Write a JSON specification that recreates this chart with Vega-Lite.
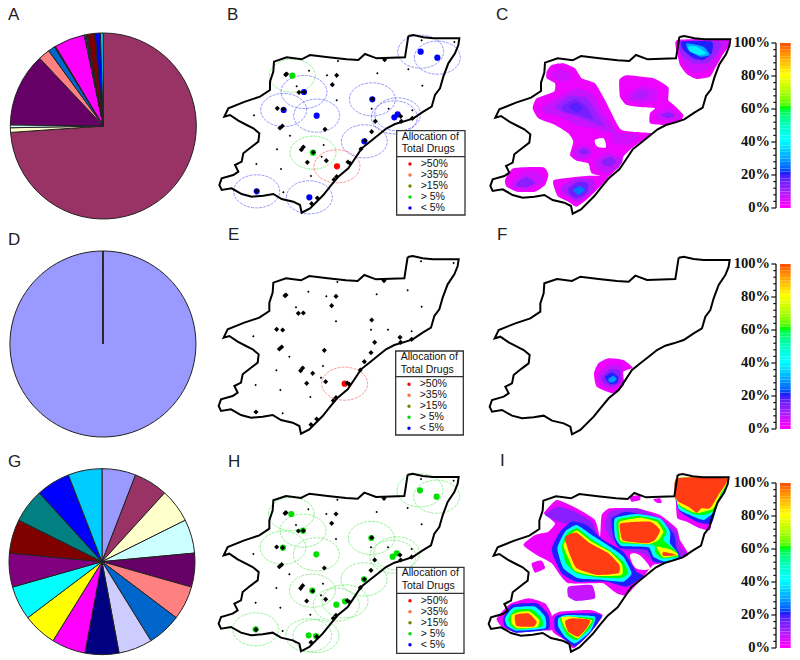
{"$schema":"https://vega.github.io/schema/vega-lite/v6.json","width":800,"height":660,"padding":0,"autosize":{"type":"fit","contains":"padding"},"background":"white","config":{"view":{"stroke":null}},
"resolve":{"scale":{"fill":"independent","color":"independent","stroke":"independent"}},
"datasets":{
"offs":[{"p":"B","dx":630,"dy":0},{"p":"E","dx":628,"dy":663},{"p":"H","dx":628,"dy":1316},{"p":"C","dx":1443,"dy":3},{"p":"F","dx":1441,"dy":665},{"p":"I","dx":1438,"dy":1317}],
"pie":[{"p":"A","c":"a","s":0,"e":0.02},{"p":"A","c":"b","s":0.02,"e":73.9},{"p":"A","c":"c","s":73.9,"e":74.7},{"p":"A","c":"d","s":74.7,"e":75.2},{"p":"A","c":"e","s":75.2,"e":88},{"p":"A","c":"f","s":88,"e":90},{"p":"A","c":"g","s":90,"e":91.2},{"p":"A","c":"h","s":91.2,"e":91.3},{"p":"A","c":"i","s":91.3,"e":91.4},{"p":"A","c":"j","s":91.4,"e":96.7},{"p":"A","c":"k","s":96.7,"e":96.8},{"p":"A","c":"l","s":96.8,"e":97},{"p":"A","c":"m","s":97,"e":97.3},{"p":"A","c":"n","s":97.3,"e":98.5},{"p":"A","c":"o","s":98.5,"e":98.6},{"p":"A","c":"q","s":98.6,"e":99.5},{"p":"A","c":"r","s":99.5,"e":100},
{"p":"D","c":"a","s":0,"e":99.98},{"p":"D","c":"b","s":99.98,"e":100},
{"p":"G","c":"a","s":0,"e":5.88},{"p":"G","c":"b","s":5.88,"e":11.76},{"p":"G","c":"c","s":11.76,"e":17.65},{"p":"G","c":"d","s":17.65,"e":23.53},{"p":"G","c":"e","s":23.53,"e":29.41},{"p":"G","c":"f","s":29.41,"e":35.29},{"p":"G","c":"g","s":35.29,"e":41.18},{"p":"G","c":"h","s":41.18,"e":47.06},{"p":"G","c":"i","s":47.06,"e":52.94},{"p":"G","c":"j","s":52.94,"e":58.82},{"p":"G","c":"k","s":58.82,"e":64.71},{"p":"G","c":"l","s":64.71,"e":70.59},{"p":"G","c":"m","s":70.59,"e":76.47},{"p":"G","c":"n","s":76.47,"e":82.35},{"p":"G","c":"o","s":82.35,"e":88.24},{"p":"G","c":"q","s":88.24,"e":94.12},{"p":"G","c":"r","s":94.12,"e":100}],
"outline":[{"i":1,"x":595,"y":108},{"i":2,"x":610,"y":105},{"i":3,"x":640,"y":112},{"i":4,"x":670,"y":115},{"i":5,"x":748,"y":115},{"i":6,"x":745,"y":135},{"i":7,"x":735,"y":160},{"i":8,"x":715,"y":190},{"i":9,"x":700,"y":230},{"i":10,"x":690,"y":265},{"i":11,"x":675,"y":285},{"i":12,"x":665,"y":320},{"i":13,"x":640,"y":335},{"i":14,"x":610,"y":355},{"i":15,"x":580,"y":365},{"i":16,"x":555,"y":372},{"i":17,"x":530,"y":385},{"i":18,"x":505,"y":405},{"i":19,"x":480,"y":425},{"i":20,"x":455,"y":445},{"i":21,"x":432,"y":480},{"i":22,"x":415,"y":505},{"i":23,"x":385,"y":530},{"i":24,"x":360,"y":560},{"i":25,"x":340,"y":585},{"i":26,"x":300,"y":625},{"i":27,"x":275,"y":638},{"i":28,"x":270,"y":615},{"i":29,"x":250,"y":605},{"i":30,"x":215,"y":597},{"i":31,"x":190,"y":582},{"i":32,"x":160,"y":587},{"i":33,"x":125,"y":590},{"i":34,"x":95,"y":582},{"i":35,"x":65,"y":565},{"i":36,"x":35,"y":570},{"i":37,"x":28,"y":555},{"i":38,"x":35,"y":535},{"i":39,"x":70,"y":525},{"i":40,"x":85,"y":515},{"i":41,"x":75,"y":495},{"i":42,"x":95,"y":485},{"i":43,"x":100,"y":460},{"i":44,"x":125,"y":440},{"i":45,"x":145,"y":425},{"i":46,"x":148,"y":400},{"i":47,"x":130,"y":385},{"i":48,"x":110,"y":375},{"i":49,"x":85,"y":362},{"i":50,"x":60,"y":345},{"i":51,"x":43,"y":350},{"i":52,"x":55,"y":325},{"i":53,"x":105,"y":305},{"i":54,"x":150,"y":290},{"i":55,"x":180,"y":270},{"i":56,"x":180,"y":245},{"i":57,"x":190,"y":215},{"i":58,"x":192,"y":185},{"i":59,"x":230,"y":172},{"i":60,"x":275,"y":178},{"i":61,"x":300,"y":165},{"i":62,"x":355,"y":172},{"i":63,"x":410,"y":178},{"i":64,"x":445,"y":180},{"i":65,"x":465,"y":162},{"i":66,"x":500,"y":175},{"i":67,"x":585,"y":172},{"i":68,"x":590,"y":140},{"i":69,"x":595,"y":108}],
"sites":[{"x":524,"y":179,"k":"l"},{"x":230,"y":222,"k":"l"},{"x":227,"y":224,"k":"l"},{"x":380,"y":226,"k":"l"},{"x":367,"y":254,"k":"l"},{"x":267,"y":277,"k":"l"},{"x":282,"y":276,"k":"l"},{"x":487,"y":297,"k":"l"},{"x":202,"y":325,"k":"l"},{"x":220,"y":327,"k":"l"},{"x":496,"y":364,"k":"l"},{"x":572,"y":349,"k":"l"},{"x":574,"y":364,"k":"l"},{"x":607,"y":355,"k":"l"},{"x":345,"y":388,"k":"l"},{"x":217,"y":378,"k":"l"},{"x":210,"y":384,"k":"l"},{"x":485,"y":395,"k":"l"},{"x":465,"y":422,"k":"l"},{"x":280,"y":441,"k":"l"},{"x":274,"y":449,"k":"l"},{"x":310,"y":457,"k":"l"},{"x":453,"y":447,"k":"l"},{"x":349,"y":482,"k":"l"},{"x":292,"y":487,"k":"l"},{"x":420,"y":490,"k":"l"},{"x":414,"y":486,"k":"l"},{"x":380,"y":530,"k":"l"},{"x":372,"y":539,"k":"l"},{"x":140,"y":573,"k":"l"},{"x":322,"y":594,"k":"l"},{"x":305,"y":611,"k":"l"},{"x":635,"y":121,"k":"s"},{"x":733,"y":126,"k":"s"},{"x":384,"y":183,"k":"s"},{"x":595,"y":208,"k":"s"},{"x":297,"y":212,"k":"s"},{"x":351,"y":226,"k":"s"},{"x":502,"y":220,"k":"s"},{"x":260,"y":259,"k":"s"},{"x":637,"y":257,"k":"s"},{"x":380,"y":301,"k":"s"},{"x":485,"y":326,"k":"s"},{"x":536,"y":326,"k":"s"},{"x":607,"y":331,"k":"s"},{"x":132,"y":346,"k":"s"},{"x":240,"y":407,"k":"s"},{"x":341,"y":435,"k":"s"},{"x":201,"y":448,"k":"s"},{"x":335,"y":470,"k":"s"},{"x":139,"y":492,"k":"s"},{"x":213,"y":507,"k":"s"},{"x":303,"y":528,"k":"s"},{"x":220,"y":577,"k":"s"}],
"drugs":[{"p":"B","x":632,"y":155,"l":"< 5%"},{"p":"B","x":682,"y":173,"l":"< 5%"},{"p":"B","x":487,"y":298,"l":"< 5%"},{"p":"B","x":282,"y":276,"l":"< 5%"},{"p":"B","x":221,"y":330,"l":"< 5%"},{"p":"B","x":320,"y":347,"l":"< 5%"},{"p":"B","x":553,"y":352,"l":"< 5%"},{"p":"B","x":563,"y":343,"l":"< 5%"},{"p":"B","x":463,"y":424,"l":"< 5%"},{"p":"B","x":140,"y":574,"l":"< 5%"},{"p":"B","x":298,"y":592,"l":"< 5%"},{"p":"B","x":247,"y":227,"l":"> 5%"},{"p":"B","x":309,"y":458,"l":"> 5%"},{"p":"B","x":381,"y":499,"l":">50%"},
{"p":"E","x":406,"y":488,"l":">50%"},
{"p":"H","x":632,"y":155,"l":"> 5%"},{"p":"H","x":682,"y":174,"l":"> 5%"},{"p":"H","x":486,"y":298,"l":"> 5%"},{"p":"H","x":281,"y":276,"l":"> 5%"},{"p":"H","x":221,"y":327,"l":"> 5%"},{"p":"H","x":321,"y":347,"l":"> 5%"},{"p":"H","x":550,"y":354,"l":"> 5%"},{"p":"H","x":562,"y":344,"l":"> 5%"},{"p":"H","x":464,"y":422,"l":"> 5%"},{"p":"H","x":139,"y":572,"l":"> 5%"},{"p":"H","x":298,"y":590,"l":"> 5%"},{"p":"H","x":320,"y":592,"l":"> 5%"},{"p":"H","x":246,"y":226,"l":"> 5%"},{"p":"H","x":309,"y":456,"l":"> 5%"},{"p":"H","x":381,"y":498,"l":"> 5%"},{"p":"H","x":407,"y":488,"l":"> 5%"}],
"contours":[
{"p":"C","g":"c01","v":2,"x":[200,215,250,285,305,345,375,390,425,515,490,455,430,425,385,335,325,290,270,280,265,225,175,158,170,222,225,200],"y":[215,195,190,205,235,250,300,330,390,400,420,445,470,490,530,520,490,482,465,425,400,375,355,325,295,275,250,235]},
{"p":"C","g":"c02","v":2,"x":[592,750,725,705,690,650,620,600,592],"y":[120,120,170,205,230,237,222,195,160]},
{"p":"C","g":"c03","v":2,"x":[418,440,520,565,565,585,610,600,555,510,510,525,490,440,420],"y":[240,226,235,262,300,318,345,365,375,370,340,325,322,315,290]},
{"p":"C","g":"c04","v":2,"x":[75,100,190,205,195,165,110,80],"y":[540,505,502,525,555,575,575,560]},
{"p":"C","g":"c05","v":2,"x":[222,320,385,355,330,290,265,235,225],"y":[540,528,530,565,590,620,605,590,570]},
{"p":"C","g":"c06","v":6,"x":[185,230,290,340,370,410,395,340,290,240,195],"y":[325,295,265,285,340,395,400,385,375,350,340]},
{"p":"C","g":"c07","v":5,"x":[395,450,480,440,400],"y":[400,400,410,435,430]},
{"p":"C","g":"c08","v":10,"x":[225,270,320,350,375,340,290,245],"y":[320,288,295,340,380,370,350,335]},
{"p":"C","g":"c09","v":14,"x":[245,285,320,340,295,255],"y":[320,298,320,358,345,335]},
{"p":"C","g":"c10","v":17,"x":[265,290,310,290],"y":[318,308,325,337]},
{"p":"C","g":"c11","v":5,"x":[215,245,275,270,240,220],"y":[222,205,225,240,245,235]},
{"p":"C","g":"c12","v":6,"x":[280,310,335,330,305,285],"y":[450,435,450,470,478,470]},
{"p":"C","g":"c13","v":12,"x":[295,312,328,312],"y":[455,445,457,465]},
{"p":"C","g":"c14","v":6,"x":[345,385,425,415,380,350],"y":[480,460,475,505,520,505]},
{"p":"C","g":"c15","v":12,"x":[365,390,410,390,370],"y":[483,470,485,500,495]},
{"p":"C","g":"c16","v":5,"x":[440,480,530,530,480,445],"y":[285,258,270,300,310,300]},
{"p":"C","g":"c17","v":8,"x":[460,485,510,485,460],"y":[285,270,285,298,295]},
{"p":"C","g":"c18","v":5,"x":[525,565,600,585,540],"y":[345,325,348,362,362]},
{"p":"C","g":"c19","v":12,"x":[545,565,585,565],"y":[345,337,347,355]},
{"p":"C","g":"c20","v":5,"x":[600,745,715,695,640,610],"y":[125,125,170,205,220,190]},
{"p":"C","g":"c21","v":10,"x":[600,720,710,680,640,605],"y":[125,125,165,190,190,165]},
{"p":"C","g":"c22","v":20,"x":[605,695,695,670,640,610],"y":[125,125,160,180,175,150]},
{"p":"C","g":"c23","v":30,"x":[620,670,690,660,625],"y":[130,140,165,170,150]},
{"p":"C","g":"c24","v":38,"x":[625,650,680,660,630],"y":[140,140,160,165,155]},
{"p":"C","g":"c25","v":5,"x":[95,135,180,190,135,95],"y":[545,515,520,550,570,565]},
{"p":"C","g":"c26","v":12,"x":[110,140,165,140,110],"y":[548,530,548,562,558]},
{"p":"C","g":"c27","v":8,"x":[245,290,340,340,295,265,245],"y":[560,535,540,570,605,590,575]},
{"p":"C","g":"c28","v":15,"x":[265,295,325,320,290,270],"y":[565,545,550,580,595,585]},
{"p":"C","g":"c29","v":25,"x":[280,300,315,295],"y":[570,558,570,585]},
{"p":"F","g":"f1","v":2,"x":[342,355,385,430,458,430,432,400,350],"y":[453,423,408,413,436,448,488,513,493]},
{"p":"F","g":"f2","v":6,"x":[355,385,425,425,395,360],"y":[458,430,430,480,500,485]},
{"p":"F","g":"f3","v":12,"x":[365,390,420,420,395,370],"y":[463,440,445,480,492,480]},
{"p":"F","g":"f4","v":20,"x":[375,395,415,410,390],"y":[465,450,465,482,485]},
{"p":"F","g":"f5","v":28,"x":[385,400,410,400,388],"y":[470,460,470,480,480]},
{"p":"I","g":"i01","v":2,"x":[190,230,290,345,360,365,390,470,540,590,600,625,570,520,490,440,410,370,340,265,240,215,170,130,165,205,225,190],"y":[220,180,205,240,290,225,205,205,225,265,300,345,365,375,410,465,460,430,430,430,405,370,345,315,285,275,250,220]},
{"p":"I","g":"i02","v":2,"x":[590,745,720,700,690,660,620,592,588],"y":[118,115,170,220,270,265,245,235,190]},
{"p":"I","g":"i03","v":2,"x":[50,90,145,195,215,215,170,110,65],"y":[535,492,475,490,525,570,570,578,560]},
{"p":"I","g":"i04","v":2,"x":[240,330,368,350,320,280,255,218,215],"y":[515,510,525,555,590,625,600,575,530]},
{"p":"I","g":"i05","v":2,"x":[155,185,195,165],"y":[370,362,385,398]},
{"p":"I","g":"i06","v":6,"x":[265,335,345,290,265],"y":[440,435,475,483,470]},
{"p":"I","g":"i07","v":2,"x":[450,480,480,455],"y":[170,165,180,185]},
{"p":"I","g":"i08","v":2,"x":[520,540,545,530],"y":[178,175,188,188]},
{"p":"I","g":"i09","v":12,"x":[195,235,285,335,350,300,250],"y":[225,200,215,245,290,255,250]},
{"p":"I","g":"i10","v":20,"x":[590,745,715,695,650,600,590],"y":[118,118,185,250,245,215,190]},
{"p":"I","g":"i11","v":40,"x":[590,745,725,703,670,630,595],"y":[118,118,165,215,240,225,205]},
{"p":"I","g":"i12","v":60,"x":[590,745,725,705,672,640,595],"y":[115,115,160,210,225,222,195]},
{"p":"I","g":"i13","v":80,"x":[590,745,725,700,660,635,592],"y":[115,115,155,205,218,215,188]},
{"p":"I","g":"i14","v":100,"x":[590,740,715,690,665,650,625,590],"y":[115,115,165,205,205,218,200,180]},
{"p":"I","g":"i15","v":10,"x":[390,470,540,590,600,620,590,530,490,430,395,375],"y":[215,205,235,275,320,345,360,370,340,330,300,260]},
{"p":"I","g":"i16","v":20,"x":[215,240,275,320,370,430,470,490,440,380,290,245],"y":[330,275,245,255,300,335,395,408,440,425,425,400]},
{"p":"I","g":"i17","v":40,"x":[232,255,290,335,390,430,455,430,370,295,250],"y":[325,275,255,285,320,350,400,425,420,415,385]},
{"p":"I","g":"i18","v":60,"x":[245,262,292,335,395,430,445,420,350,290,258],"y":[320,280,265,298,335,365,400,415,412,400,370]},
{"p":"I","g":"i19","v":80,"x":[250,270,292,335,390,425,425,350,285,265],"y":[315,285,272,305,335,372,405,408,393,355]},
{"p":"I","g":"i20","v":100,"x":[255,290,330,385,418,415,350,290,270,258],"y":[290,278,310,340,375,400,405,385,345,310]},
{"p":"I","g":"i21","v":20,"x":[395,440,530,580,590,600,560,520,500,420,400],"y":[235,215,235,280,325,350,368,365,330,325,290]},
{"p":"I","g":"i22","v":40,"x":[405,470,540,570,570,590,595,555,520,505,425,405],"y":[235,222,235,275,310,335,352,365,350,322,318,290]},
{"p":"I","g":"i23","v":60,"x":[412,475,535,560,550,585,595,545,525,520,425,412],"y":[240,228,240,275,300,330,350,355,335,315,310,285]},
{"p":"I","g":"i24","v":80,"x":[418,480,530,550,535,505,425,418],"y":[245,233,245,275,300,312,305,280]},
{"p":"I","g":"i25","v":80,"x":[530,575,595,550],"y":[320,330,345,352]},
{"p":"I","g":"i26","v":100,"x":[422,510,540,525,500,430,422],"y":[250,245,270,300,310,302,280]},
{"p":"I","g":"i27","v":100,"x":[550,590,550],"y":[335,345,348]},
{"p":"I","g":"i28","v":20,"x":[70,95,170,205,205,110,75],"y":[535,495,490,525,568,578,560]},
{"p":"I","g":"i29","v":40,"x":[75,100,165,195,195,110,82],"y":[535,503,500,530,565,572,558]},
{"p":"I","g":"i30","v":60,"x":[85,105,155,185,185,110,90],"y":[535,510,508,535,560,568,555]},
{"p":"I","g":"i31","v":80,"x":[95,120,150,178,170,112,95],"y":[525,515,515,540,562,565,550]},
{"p":"I","g":"i32","v":100,"x":[105,145,170,160,110],"y":[525,520,545,560,558]},
{"p":"I","g":"i33","v":20,"x":[225,265,345,365,330,285,250,225],"y":[530,520,520,530,580,620,595,570]},
{"p":"I","g":"i34","v":40,"x":[235,260,345,330,285,255,235],"y":[535,525,530,575,610,590,560]},
{"p":"I","g":"i35","v":60,"x":[240,268,340,330,290,260,245],"y":[535,530,535,565,600,585,555]},
{"p":"I","g":"i36","v":80,"x":[245,275,335,325,295,265,250],"y":[532,530,540,560,595,578,555]},
{"p":"I","g":"i37","v":100,"x":[255,275,330,320,295,265],"y":[545,535,540,565,590,575]}],
"holes":[{"p":"C","g":"h1","x":[345,370,378,365,350],"y":[420,415,440,443,438]},{"p":"I","g":"h2","x":[450,478,510,468],"y":[345,345,385,385]}],
"box":[{"p":"B","x1":1190,"x2":1395,"y1":392,"y2":645,"r":470},{"p":"E","x1":1187,"x2":1390,"y1":1053,"y2":1305,"r":1130},{"p":"H","x1":1190,"x2":1392,"y1":1702,"y2":1960,"r":1780}],
"legtitle":[{"t":"Allocation of","k":0},{"t":"Total Drugs","k":1}],
"legitems":[{"l":">50%","k":0},{"l":">35%","k":1},{"l":">15%","k":2},{"l":"> 5%","k":3},{"l":"< 5%","k":4}],
"titles":[{"t":"A","x":24,"y":60},{"t":"B","x":681,"y":60},{"t":"C","x":1488,"y":60},{"t":"D","x":24,"y":735},{"t":"E","x":684,"y":720},{"t":"F","x":1491,"y":720},{"t":"G","x":24,"y":1401},{"t":"H","x":684,"y":1401},{"t":"I","x":1500,"y":1398}],
"ticks":[{"v":0,"t":"0%","m":1},{"v":4,"m":0},{"v":8,"m":0},{"v":12,"m":0},{"v":16,"m":0},{"v":20,"t":"20%","m":1},{"v":24,"m":0},{"v":28,"m":0},{"v":32,"m":0},{"v":36,"m":0},{"v":40,"t":"40%","m":1},{"v":44,"m":0},{"v":48,"m":0},{"v":52,"m":0},{"v":56,"m":0},{"v":60,"t":"60%","m":1},{"v":64,"m":0},{"v":68,"m":0},{"v":72,"m":0},{"v":76,"m":0},{"v":80,"t":"80%","m":1},{"v":84,"m":0},{"v":88,"m":0},{"v":92,"m":0},{"v":96,"m":0},{"v":100,"t":"100%","m":1}],
"axisline":[{"p":"C","a":0,"b":100},{"p":"F","a":0,"b":100},{"p":"I","a":0,"b":100}],
"bar":[{"a":0,"b":2},{"a":2,"b":4},{"a":4,"b":6},{"a":6,"b":8},{"a":8,"b":10},{"a":10,"b":12},{"a":12,"b":14},{"a":14,"b":16},{"a":16,"b":18},{"a":18,"b":20},{"a":20,"b":22},{"a":22,"b":24},{"a":24,"b":26},{"a":26,"b":28},{"a":28,"b":30},{"a":30,"b":32},{"a":32,"b":34},{"a":34,"b":36},{"a":36,"b":38},{"a":38,"b":40},{"a":40,"b":42},{"a":42,"b":44},{"a":44,"b":46},{"a":46,"b":48},{"a":48,"b":50},{"a":50,"b":52},{"a":52,"b":54},{"a":54,"b":56},{"a":56,"b":58},{"a":58,"b":60},{"a":60,"b":62},{"a":62,"b":64},{"a":64,"b":66},{"a":66,"b":68},{"a":68,"b":70},{"a":70,"b":72},{"a":72,"b":74},{"a":74,"b":76},{"a":76,"b":78},{"a":78,"b":80},{"a":80,"b":82},{"a":82,"b":84},{"a":84,"b":86},{"a":86,"b":88},{"a":88,"b":90},{"a":90,"b":92},{"a":92,"b":94},{"a":94,"b":96},{"a":96,"b":98},{"a":98,"b":100}]
},
"layer":[
{"data":{"name":"pie"},"transform":[{"calculate":"datum.p=='A'?310:datum.p=='D'?309:306","as":"X"},{"calculate":"datum.p=='A'?378:datum.p=='D'?1032:1685","as":"Y"}],"mark":{"type":"arc","radius":93,"stroke":"#222","strokeWidth":1},"encoding":{"x":{"field":"X","type":"quantitative","axis":null,"scale":{"domain":[0,2400],"nice":false,"zero":false}},"y":{"field":"Y","type":"quantitative","axis":null,"scale":{"domain":[1980,0],"nice":false,"zero":false}},"theta":{"field":"s","type":"quantitative","stack":null,"scale":{"domain":[0,100]}},"theta2":{"field":"e"},"color":{"field":"c","type":"nominal","legend":null,"scale":{"domain":["a","b","c","d","e","f","g","h","i","j","k","l","m","n","o","q","r"],"range":["#9999ff","#993366","#ffffcc","#ccffff","#660066","#ff8080","#0066cc","#ccccff","#000080","#ff00ff","#ffff00","#00ffff","#800080","#800000","#008080","#0000ff","#00ccff"]}}}},
{"data":{"name":"drugs"},"transform":[{"lookup":"p","from":{"data":{"name":"offs"},"key":"p","fields":["dx","dy"]}},{"calculate":"datum.x+datum.dx","as":"X"},{"calculate":"datum.y+datum.dy","as":"Y"}],"mark":{"type":"point","filled":false,"shape":"M-1,0A1,.72,0,1,1,1,0A1,.72,0,1,1,-1,0Z","size":2116,"strokeWidth":0.7,"strokeDash":[3,1],"opacity":0.55},"encoding":{"x":{"field":"X","type":"quantitative"},"y":{"field":"Y","type":"quantitative"},"stroke":{"field":"l","type":"nominal","legend":null,"scale":{"domain":[">50%",">35%",">15%","> 5%","< 5%"],"range":["#ff0000","#ff7040","#808000","#00e000","#0000ff"]}}}},
{"data":{"name":"drugs"},"transform":[{"lookup":"p","from":{"data":{"name":"offs"},"key":"p","fields":["dx","dy"]}},{"calculate":"datum.x+datum.dx","as":"X"},{"calculate":"datum.y+datum.dy","as":"Y"}],"mark":{"type":"point","filled":true,"shape":"circle","size":38,"opacity":1},"encoding":{"x":{"field":"X","type":"quantitative"},"y":{"field":"Y","type":"quantitative"},"fill":{"field":"l","type":"nominal","legend":null,"scale":{"domain":[">50%",">35%",">15%","> 5%","< 5%"],"range":["#ff0000","#ff7040","#808000","#00e000","#0000ff"]}}}},
{"data":{"name":"contours"},"transform":[{"flatten":["x","y"]},{"window":[{"op":"row_number","as":"i"}]},{"calculate":"datum.x+1440","as":"X"},{"calculate":"datum.y+(datum.p=='C'?0:datum.p=='F'?667:1320)","as":"Y"}],"mark":{"type":"line","filled":true,"interpolate":"cardinal-closed","tension":0.5,"strokeWidth":0},"encoding":{"x":{"field":"X","type":"quantitative"},"y":{"field":"Y","type":"quantitative"},"detail":{"field":"g"},"order":{"field":"i"},"fill":{"field":"v","type":"quantitative","legend":null,"scale":{"domain":[0,10,20,40,60,80,100],"range":["#ff00ff","#9a20ff","#2020ff","#00ffff","#00ff00","#ffff00","#ff3c14"]}}}},
{"data":{"name":"holes"},"transform":[{"flatten":["x","y"]},{"window":[{"op":"row_number","as":"i"}]},{"calculate":"datum.x+1440","as":"X"},{"calculate":"datum.y+(datum.p=='C'?0:1320)","as":"Y"}],"mark":{"type":"line","filled":true,"fill":"white","interpolate":"cardinal-closed","strokeWidth":0},"encoding":{"x":{"field":"X","type":"quantitative"},"y":{"field":"Y","type":"quantitative"},"detail":{"field":"g"},"order":{"field":"i"}}},
{"data":{"name":"outline"},"transform":[{"calculate":"['B','E','H','C','F','I']","as":"p"},{"flatten":["p"]},{"lookup":"p","from":{"data":{"name":"offs"},"key":"p","fields":["dx","dy"]}},{"calculate":"datum.x+datum.dx","as":"X"},{"calculate":"datum.y+datum.dy","as":"Y"}],"mark":{"type":"line","color":"black","strokeWidth":2},"encoding":{"x":{"field":"X","type":"quantitative"},"y":{"field":"Y","type":"quantitative"},"detail":{"field":"p"},"order":{"field":"i"}}},
{"data":{"name":"sites"},"transform":[{"calculate":"['B','E','H']","as":"p"},{"flatten":["p"]},{"lookup":"p","from":{"data":{"name":"offs"},"key":"p","fields":["dx","dy"]}},{"calculate":"datum.x+datum.dx","as":"X"},{"calculate":"datum.y+datum.dy","as":"Y"}],"mark":{"type":"point","filled":true,"shape":"diamond","color":"black","opacity":1},"encoding":{"x":{"field":"X","type":"quantitative"},"y":{"field":"Y","type":"quantitative"},"size":{"field":"k","type":"ordinal","legend":null,"scale":{"domain":["s","l"],"range":[6,26]}}}},
{"data":{"name":"box"},"mark":{"type":"rect","fill":"white","stroke":"#333","strokeWidth":1.3},"encoding":{"x":{"field":"x1","type":"quantitative"},"x2":{"field":"x2"},"y":{"field":"y1","type":"quantitative"},"y2":{"field":"y2"}}},
{"data":{"name":"box"},"mark":{"type":"rule","stroke":"#333","strokeWidth":1.3},"encoding":{"x":{"field":"x1","type":"quantitative"},"x2":{"field":"x2"},"y":{"field":"r","type":"quantitative"}}},
{"data":{"name":"legtitle"},"transform":[{"calculate":"['B','E','H']","as":"p"},{"flatten":["p"]},{"lookup":"p","from":{"data":{"name":"box"},"key":"p","fields":["x1","y1"]}},{"calculate":"datum.x1+15","as":"X"},{"calculate":"datum.y1+18+38*datum.k","as":"Y"}],"mark":{"type":"text","align":"left","baseline":"middle","font":"Liberation Sans","fontSize":10.5,"color":"#111"},"encoding":{"x":{"field":"X","type":"quantitative"},"y":{"field":"Y","type":"quantitative"},"text":{"field":"t"}}},
{"data":{"name":"legitems"},"transform":[{"calculate":"['B','E','H']","as":"p"},{"flatten":["p"]},{"lookup":"p","from":{"data":{"name":"box"},"key":"p","fields":["x1","y1"]}},{"calculate":"datum.x1+40","as":"X"},{"calculate":"datum.y1+100+33*datum.k","as":"Y"}],"mark":{"type":"point","filled":true,"shape":"circle","size":12,"opacity":1},"encoding":{"x":{"field":"X","type":"quantitative"},"y":{"field":"Y","type":"quantitative"},"fill":{"field":"l","type":"nominal","legend":null,"scale":{"domain":[">50%",">35%",">15%","> 5%","< 5%"],"range":["#ff0000","#ff7040","#808000","#00e000","#0000ff"]}}}},
{"data":{"name":"legitems"},"transform":[{"calculate":"['B','E','H']","as":"p"},{"flatten":["p"]},{"lookup":"p","from":{"data":{"name":"box"},"key":"p","fields":["x1","y1"]}},{"calculate":"datum.x1+72","as":"X"},{"calculate":"datum.y1+100+33*datum.k","as":"Y"}],"mark":{"type":"text","align":"left","baseline":"middle","font":"Liberation Sans","fontSize":10.5,"color":"#111"},"encoding":{"x":{"field":"X","type":"quantitative"},"y":{"field":"Y","type":"quantitative"},"text":{"field":"l"}}},
{"data":{"name":"titles"},"mark":{"type":"text","align":"left","baseline":"alphabetic","font":"Liberation Sans","fontSize":17,"color":"#222"},"encoding":{"x":{"field":"x","type":"quantitative"},"y":{"field":"y","type":"quantitative"},"text":{"field":"t"}}},
{"data":{"name":"bar"},"transform":[{"calculate":"['C','F','I']","as":"p"},{"flatten":["p"]},{"calculate":"(datum.p=='C'?624:datum.p=='F'?1287:1944)-4.95*datum.a","as":"Y"},{"calculate":"(datum.p=='C'?624:datum.p=='F'?1287:1944)-4.95*datum.b","as":"Y2"}],"mark":{"type":"rect"},"encoding":{"x":{"datum":2340,"type":"quantitative"},"x2":{"datum":2372},"y":{"field":"Y","type":"quantitative"},"y2":{"field":"Y2"},"fill":{"field":"a","type":"quantitative","legend":null,"scale":{"domain":[0,10,20,40,60,80,100],"range":["#ff00ff","#9a20ff","#2020ff","#00ffff","#00ff00","#ffff00","#ff3c14"]}}}},
{"data":{"name":"axisline"},"transform":[{"calculate":"(datum.p=='C'?624:datum.p=='F'?1287:1944)-4.95*datum.a","as":"Y"},{"calculate":"(datum.p=='C'?624:datum.p=='F'?1287:1944)-4.95*datum.b","as":"Y2"}],"mark":{"type":"rule","stroke":"#111","strokeWidth":1.3},"encoding":{"x":{"datum":2328,"type":"quantitative"},"y":{"field":"Y","type":"quantitative"},"y2":{"field":"Y2"}}},
{"data":{"name":"ticks"},"transform":[{"calculate":"['C','F','I']","as":"p"},{"flatten":["p"]},{"calculate":"(datum.p=='C'?624:datum.p=='F'?1287:1944)-4.95*datum.v","as":"Y"},{"calculate":"2328-(datum.m?14:8)","as":"X"}],"mark":{"type":"rule","stroke":"#111","strokeWidth":1.2},"encoding":{"x":{"field":"X","type":"quantitative"},"x2":{"datum":2328},"y":{"field":"Y","type":"quantitative"}}},
{"data":{"name":"ticks"},"transform":[{"filter":"datum.m==1"},{"calculate":"['C','F','I']","as":"p"},{"flatten":["p"]},{"calculate":"(datum.p=='C'?624:datum.p=='F'?1287:1944)-4.95*datum.v","as":"Y"}],"mark":{"type":"text","align":"right","baseline":"middle","font":"Liberation Serif","fontWeight":"bold","fontSize":14.5,"color":"#111"},"encoding":{"x":{"datum":2310,"type":"quantitative"},"y":{"field":"Y","type":"quantitative"},"text":{"field":"t"}}}
]}
